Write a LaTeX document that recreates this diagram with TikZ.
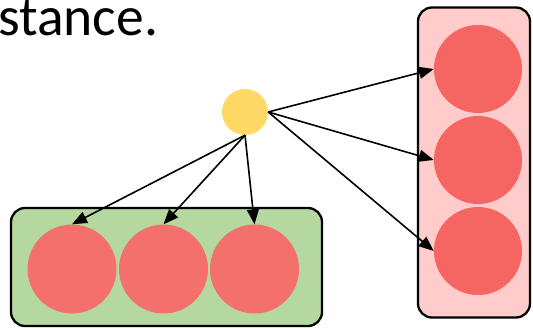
\documentclass[tikz,border=0pt]{standalone}
\usepackage{fontspec}
\setmainfont{Carlito}
\usepackage{tikz}
\usetikzlibrary{arrows.meta}

\definecolor{sunyellow}{RGB}{255,217,102}
\definecolor{leafgreen}{RGB}{181,216,160}
\definecolor{boxpink}{RGB}{255,203,203}
\definecolor{ballred}{RGB}{244,112,108}

\begin{document}
\begin{tikzpicture}[x=1pt,y=-1pt]
				\useasboundingbox (0,0) rectangle (533,329);

				\node[anchor=base west, inner sep=0] (title) at (-2,36) {\fontsize{55.5}{60}\selectfont stance.};

				% the two groups
				\node[draw, line width=2.3pt, rounded corners=14pt, fill=leafgreen, minimum width=311pt, minimum height=118pt, inner sep=0] (row) at (166.5,267) {};
				\node[draw, line width=2.3pt, rounded corners=14pt, fill=boxpink, minimum width=112pt, minimum height=310pt, inner sep=0] (col) at (474,162.5) {};

				\node[circle, fill=sunyellow, minimum size=46pt, inner sep=0] (0) at (245,112) {};
				\node[circle, fill=ballred, minimum size=89pt, inner sep=0] (1) at (72,269) {};
				\node[circle, fill=ballred, minimum size=89pt, inner sep=0] (2) at (163.5,269) {};
				\node[circle, fill=ballred, minimum size=89pt, inner sep=0] (3) at (254.5,269) {};
				\node[circle, fill=ballred!90!red, minimum size=88pt, inner sep=0] (4) at (478,69) {};
				\node[circle, fill=ballred!90!red, minimum size=88pt, inner sep=0] (5) at (478,160) {};
				\node[circle, fill=ballred!90!red, minimum size=88pt, inner sep=0] (6) at (478,251) {};

				\draw[line width=1.6pt, -{Triangle[length=15pt,width=12pt]}]  (0.south) -- (1.north);
				\draw[line width=1.6pt, -{Triangle[length=15pt,width=12pt]}]  (0.south) -- (2.north);
				\draw[line width=1.6pt, -{Triangle[length=15pt,width=12pt]}]  (0.south) -- (3.north);
				\draw[line width=1.6pt, -{Triangle[length=15pt,width=12pt]}]  (0.east) -- (4.west);
				\draw[line width=1.6pt, -{Triangle[length=15pt,width=12pt]}]  (0.east) -- (5.west);
				\draw[line width=1.6pt, -{Triangle[length=15pt,width=12pt]}]  (0.east) -- (6.west);
			\end{tikzpicture}
\end{document}
